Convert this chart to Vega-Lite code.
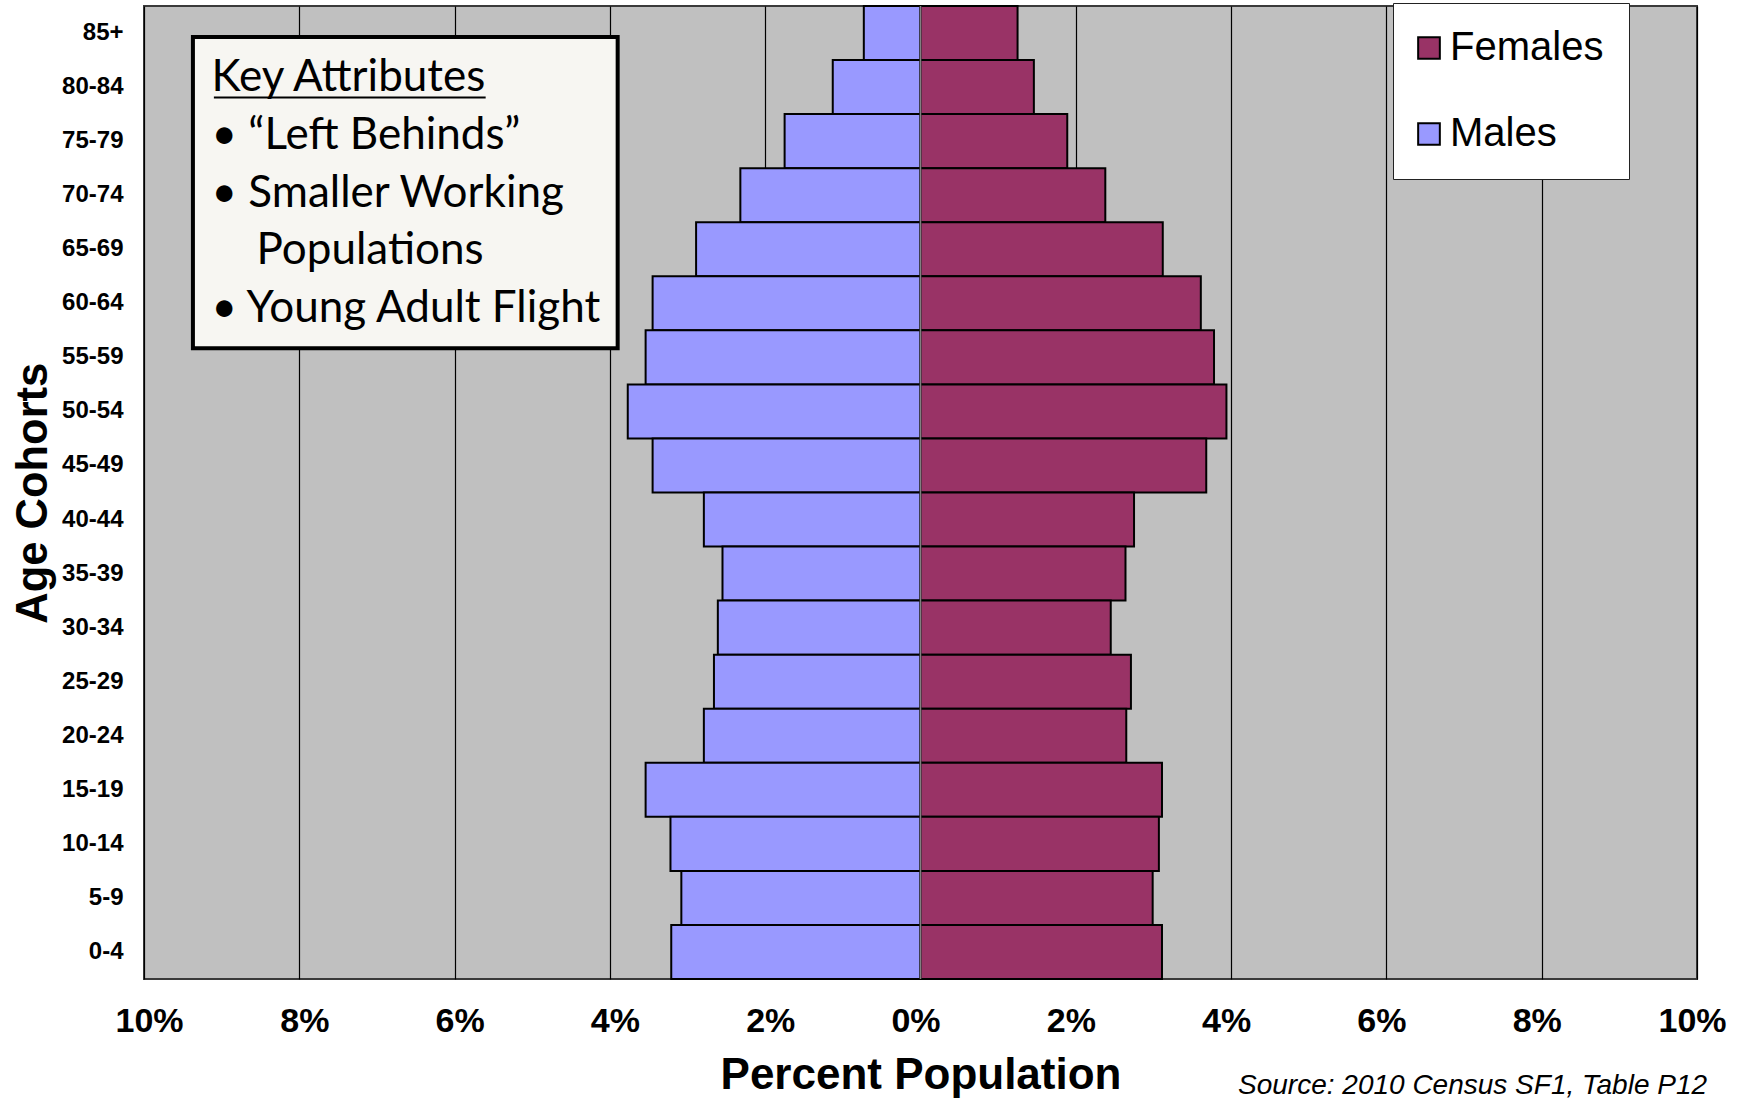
{
  "$schema": "https://vega.github.io/schema/vega-lite/v6.json",
  "width": 1553,
  "height": 973,
  "autosize": {"type": "none"},
  "padding": {"left": 144, "top": 6, "right": 45, "bottom": 120},
  "background": "white",
  "config": {
    "view": {"fill": "#C0C0C0", "stroke": "#3a3a3a", "strokeWidth": 2},
    "font": "Liberation Sans"
  },
  "datasets": {
    "pop": [
      {"age": "85+", "sex": "Males", "pct": -0.73}, {"age": "85+", "sex": "Females", "pct": 1.25},
      {"age": "80-84", "sex": "Males", "pct": -1.13}, {"age": "80-84", "sex": "Females", "pct": 1.46},
      {"age": "75-79", "sex": "Males", "pct": -1.75}, {"age": "75-79", "sex": "Females", "pct": 1.89},
      {"age": "70-74", "sex": "Males", "pct": -2.32}, {"age": "70-74", "sex": "Females", "pct": 2.38},
      {"age": "65-69", "sex": "Males", "pct": -2.89}, {"age": "65-69", "sex": "Females", "pct": 3.12},
      {"age": "60-64", "sex": "Males", "pct": -3.45}, {"age": "60-64", "sex": "Females", "pct": 3.61},
      {"age": "55-59", "sex": "Males", "pct": -3.54}, {"age": "55-59", "sex": "Females", "pct": 3.78},
      {"age": "50-54", "sex": "Males", "pct": -3.77}, {"age": "50-54", "sex": "Females", "pct": 3.94},
      {"age": "45-49", "sex": "Males", "pct": -3.45}, {"age": "45-49", "sex": "Females", "pct": 3.68},
      {"age": "40-44", "sex": "Males", "pct": -2.79}, {"age": "40-44", "sex": "Females", "pct": 2.75},
      {"age": "35-39", "sex": "Males", "pct": -2.55}, {"age": "35-39", "sex": "Females", "pct": 2.64},
      {"age": "30-34", "sex": "Males", "pct": -2.61}, {"age": "30-34", "sex": "Females", "pct": 2.45},
      {"age": "25-29", "sex": "Males", "pct": -2.66}, {"age": "25-29", "sex": "Females", "pct": 2.71},
      {"age": "20-24", "sex": "Males", "pct": -2.79}, {"age": "20-24", "sex": "Females", "pct": 2.65},
      {"age": "15-19", "sex": "Males", "pct": -3.54}, {"age": "15-19", "sex": "Females", "pct": 3.11},
      {"age": "10-14", "sex": "Males", "pct": -3.22}, {"age": "10-14", "sex": "Females", "pct": 3.07},
      {"age": "5-9", "sex": "Males", "pct": -3.08}, {"age": "5-9", "sex": "Females", "pct": 2.99},
      {"age": "0-4", "sex": "Males", "pct": -3.21}, {"age": "0-4", "sex": "Females", "pct": 3.11}
    ],
    "notes": [
      {"line": 0, "text": "Key Attributes"},
      {"line": 1, "text": "• “Left Behinds”"},
      {"line": 2, "text": "• Smaller Working"},
      {"line": 4, "text": "• Young Adult Flight"}
    ],
    "notes2": [
      {"line": 3, "text": "Populations"}
    ],
    "source": [{"text": "Source: 2010 Census SF1, Table P12"}]
  },
  "layer": [
    {
      "data": {"name": "pop"},
      "mark": {"type": "bar", "stroke": "black", "strokeWidth": 2},
      "encoding": {
        "y": {
          "field": "age", "type": "nominal",
          "sort": ["85+","80-84","75-79","70-74","65-69","60-64","55-59","50-54","45-49","40-44","35-39","30-34","25-29","20-24","15-19","10-14","5-9","0-4"],
          "scale": {"paddingInner": 0, "paddingOuter": 0},
          "axis": {
            "title": "Age Cohorts", "titleFontSize": 43.5, "titleFontWeight": "bold", "titleColor": "black",
            "titleX": -98, "titleY": 486.7, "titleAngle": 270, "titleBaseline": "alphabetic", "titleAlign": "center",
            "labelFontSize": 24, "labelFontWeight": "bold", "labelColor": "black", "labelPadding": 21,
            "ticks": false, "domain": false, "grid": false
          }
        },
        "x": {
          "field": "pct", "type": "quantitative",
          "scale": {"domain": [-10, 10], "nice": false},
          "axis": {
            "values": [-10, -8, -6, -4, -2, 0, 2, 4, 6, 8, 10],
            "labelExpr": "abs(datum.value) + '%'",
            "grid": true, "gridColor": "black", "gridWidth": 1.2,
            "domain": false, "ticks": false,
            "labelFontSize": 34, "labelFontWeight": "bold", "labelColor": "black", "labelPadding": 25,
            "labelOffset": {"condition": {"test": "datum.value < 0", "value": 5}, "value": -5},
            "labelFlush": false, "labelOverlap": false,
            "title": "Percent Population", "titleFontSize": 44, "titleFontWeight": "bold", "titleColor": "black",
            "titleY": 109, "titleBaseline": "alphabetic"
          }
        },
        "color": {
          "field": "sex", "type": "nominal",
          "scale": {"domain": ["Females", "Males"], "range": ["#993366", "#9999FF"]},
          "legend": {
            "orient": "none", "legendX": 1249, "legendY": -3, "title": null,
            "fillColor": "white", "strokeColor": "#222222", "padding": 25,
            "symbolType": "square", "symbolSize": 470, "symbolStrokeColor": "black", "symbolStrokeWidth": 2,
            "symbolOpacity": 1, "symbolOffset": -9,
            "labelFontSize": 40, "labelFont": "Liberation Sans", "labelColor": "black",
            "rowPadding": 46, "labelOffset": 1
          }
        }
      }
    },
    {
      "data": {"name": "source"},
      "mark": {"type": "rule", "stroke": "#808080", "strokeWidth": 1.5},
      "encoding": {
        "x": {"datum": 0},
        "y": {"datum": -1.472, "type": "quantitative", "scale": {"domain": [-1.472, 15.37], "reverse": true, "nice": false, "zero": false}, "axis": null},
        "y2": {"datum": 15.37}
      }
    },
    {
      "data": {"name": "source"},
      "mark": {"type": "rect", "fill": "#F7F6F2", "stroke": "black", "strokeWidth": 4},
      "encoding": {
        "x": {"datum": -9.37}, "x2": {"datum": -3.90},
        "y": {"datum": -0.934, "type": "quantitative", "scale": {"domain": [-1.472, 15.37], "reverse": true, "nice": false, "zero": false}, "axis": null},
        "y2": {"datum": 4.452}
      }
    },
    {
      "data": {"name": "notes"},
      "mark": {"type": "text", "align": "left", "baseline": "alphabetic", "font": "Lato", "fontSize": 44, "color": "black"},
      "encoding": {
        "x": {"datum": -9.13},
        "y": {"field": "line", "type": "quantitative", "scale": {"domain": [-1.472, 15.37], "reverse": true, "nice": false, "zero": false}, "axis": null},
        "text": {"field": "text"}
      }
    },
    {
      "data": {"name": "notes2"},
      "mark": {"type": "text", "align": "left", "baseline": "alphabetic", "font": "Lato", "fontSize": 44, "color": "black"},
      "encoding": {
        "x": {"datum": -8.55},
        "y": {"field": "line", "type": "quantitative", "scale": {"domain": [-1.472, 15.37], "reverse": true, "nice": false, "zero": false}, "axis": null},
        "text": {"field": "text"}
      }
    },
    {
      "data": {"name": "source"},
      "mark": {"type": "rule", "stroke": "black", "strokeWidth": 2},
      "encoding": {
        "x": {"datum": -9.10}, "x2": {"datum": -5.60},
        "y": {"datum": 0.11, "type": "quantitative", "scale": {"domain": [-1.472, 15.37], "reverse": true, "nice": false, "zero": false}, "axis": null}
      }
    },
    {
      "data": {"name": "source"},
      "mark": {"type": "text", "align": "right", "baseline": "alphabetic", "fontStyle": "italic", "fontSize": 28, "color": "black", "font": "Liberation Sans"},
      "encoding": {
        "x": {"datum": 10.13},
        "y": {"datum": 17.36, "type": "quantitative", "scale": {"domain": [-1.472, 15.37], "reverse": true, "nice": false, "zero": false}, "axis": null},
        "text": {"field": "text"}
      }
    }
  ],
  "resolve": {"scale": {"y": "independent"}}
}
